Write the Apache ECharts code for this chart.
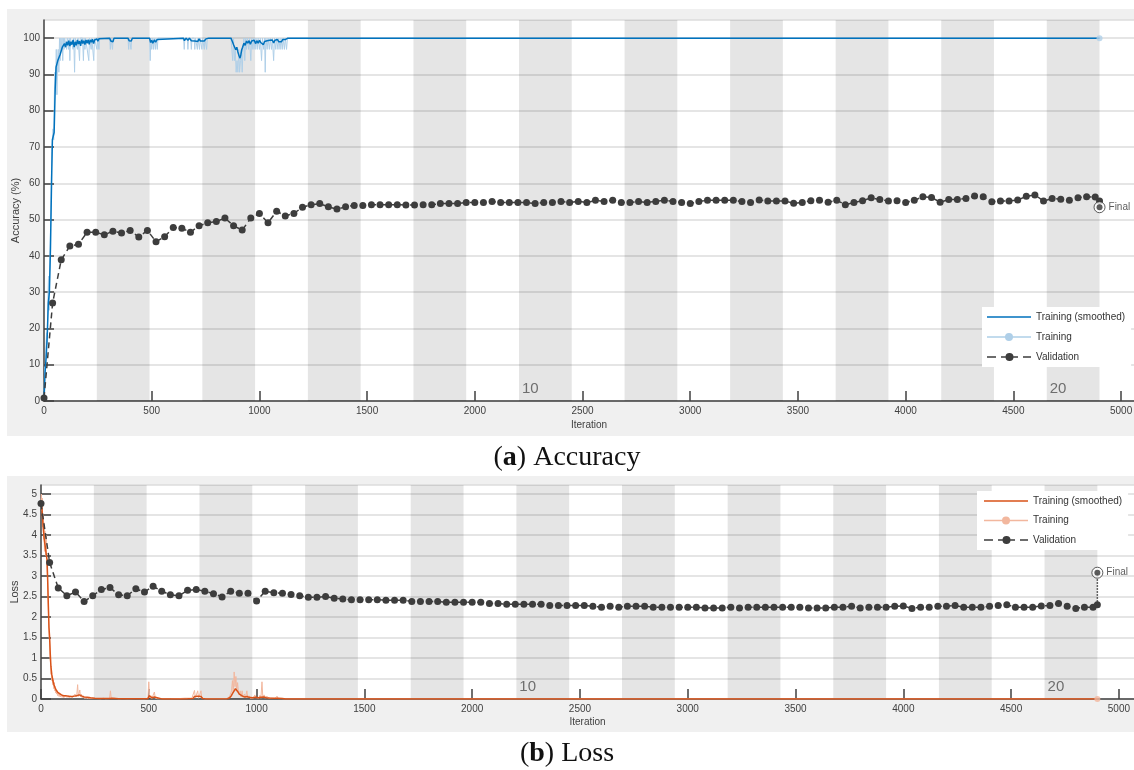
<!DOCTYPE html>
<html>
<head>
<meta charset="utf-8">
<script src="https://cdn.jsdelivr.net/npm/echarts@6/dist/echarts.min.js"></script>
<style>
  html, body { margin: 0; padding: 0; background: #fff; }
  #wrap { position: relative; width: 1134px; height: 770px; overflow: hidden; }
  .panel { position: absolute; background: #f0f0f0; }
  #chart { position: absolute; left: 0; top: 0; width: 1134px; height: 770px; }
</style>
</head>
<body>
<div id="wrap">
  <div class="panel" style="left:7px;top:9px;width:1127px;height:427px"></div>
  <div class="panel" style="left:7px;top:476px;width:1127px;height:256px"></div>
  <div id="chart"></div>
</div>
<script>
// ---- training schedule ----
const iterationsPerEpoch = 245;
const numEpochs = 20;
const labelledEpochs = [10, 20];

// ---- axis ticks ----
const accTicks = { min: 0, max: 105, interval: 10 };
const lossTicks = { min: 0, max: 5.22, interval: 0.5 };
const iterTicks = { min: 0, interval: 500 };

// ---- validation (every 40 iterations + final iteration) ----
const valIter = [
  0, 40, 80, 120, 160, 200, 240, 280, 320, 360,
  400, 440, 480, 520, 560, 600, 640, 680, 720, 760,
  800, 840, 880, 920, 960, 1000, 1040, 1080, 1120, 1160,
  1200, 1240, 1280, 1320, 1360, 1400, 1440, 1480, 1520, 1560,
  1600, 1640, 1680, 1720, 1760, 1800, 1840, 1880, 1920, 1960,
  2000, 2040, 2080, 2120, 2160, 2200, 2240, 2280, 2320, 2360,
  2400, 2440, 2480, 2520, 2560, 2600, 2640, 2680, 2720, 2760,
  2800, 2840, 2880, 2920, 2960, 3000, 3040, 3080, 3120, 3160,
  3200, 3240, 3280, 3320, 3360, 3400, 3440, 3480, 3520, 3560,
  3600, 3640, 3680, 3720, 3760, 3800, 3840, 3880, 3920, 3960,
  4000, 4040, 4080, 4120, 4160, 4200, 4240, 4280, 4320, 4360,
  4400, 4440, 4480, 4520, 4560, 4600, 4640, 4680, 4720, 4760,
  4800, 4840, 4880, 4900
];

const valAccuracy = [
  0.8, 27.0, 38.9, 42.7, 43.2, 46.5, 46.5, 45.8, 46.8, 46.3,
  47.0, 45.2, 47.0, 43.9, 45.3, 47.8, 47.6, 46.5, 48.3, 49.1,
  49.5, 50.4, 48.3, 47.1, 50.4, 51.7, 49.1, 52.3, 51.0, 51.7,
  53.4, 54.1, 54.4, 53.5, 52.9, 53.5, 53.9, 53.9, 54.1, 54.1,
  54.1, 54.1, 54.0, 54.0, 54.1, 54.1, 54.4, 54.4, 54.4, 54.7,
  54.7, 54.7, 55.0, 54.7, 54.7, 54.7, 54.7, 54.4, 54.7, 54.7,
  55.0, 54.7, 55.0, 54.7, 55.3, 55.0, 55.3, 54.7, 54.7, 55.0,
  54.7, 55.0, 55.3, 55.0, 54.7, 54.4, 55.0, 55.3, 55.3, 55.3,
  55.3, 55.0, 54.7, 55.4, 55.1, 55.1, 55.1, 54.5, 54.7, 55.2,
  55.3, 54.8, 55.3, 54.1, 54.7, 55.2, 56.0, 55.5, 55.1, 55.2,
  54.7, 55.3, 56.3, 56.1, 54.8, 55.5, 55.5, 55.8, 56.5, 56.3,
  54.9, 55.1, 55.1, 55.4, 56.4, 56.8, 55.1, 55.8, 55.6, 55.3,
  56.0, 56.3, 56.2, 55.1
];

const valLoss = [
  4.77, 3.33, 2.71, 2.52, 2.61, 2.38, 2.52, 2.67, 2.72, 2.54,
  2.52, 2.69, 2.61, 2.75, 2.63, 2.54, 2.52, 2.65, 2.67, 2.63,
  2.57, 2.49, 2.63, 2.58, 2.58, 2.39, 2.63, 2.59, 2.58, 2.55,
  2.52, 2.48, 2.48, 2.50, 2.46, 2.44, 2.42, 2.42, 2.42, 2.42,
  2.41, 2.41, 2.41, 2.38, 2.38, 2.38, 2.38, 2.36, 2.36, 2.36,
  2.36, 2.36, 2.33, 2.33, 2.31, 2.31, 2.31, 2.31, 2.31, 2.28,
  2.28, 2.28, 2.28, 2.28, 2.26, 2.24, 2.26, 2.24, 2.26, 2.26,
  2.26, 2.24, 2.24, 2.24, 2.24, 2.24, 2.24, 2.22, 2.22, 2.22,
  2.24, 2.22, 2.24, 2.24, 2.24, 2.24, 2.24, 2.24, 2.24, 2.22,
  2.22, 2.22, 2.24, 2.24, 2.26, 2.22, 2.24, 2.24, 2.24, 2.26,
  2.27, 2.21, 2.24, 2.24, 2.26, 2.26, 2.28, 2.24, 2.24, 2.24,
  2.26, 2.28, 2.30, 2.24, 2.24, 2.24, 2.27, 2.28, 2.33, 2.26,
  2.21, 2.24, 2.24, 2.30
];

// final validation after the last iteration
const finalAccuracy = 53.4;
const finalLoss = 3.08;

// ---- mini-batch accuracy (%), [iteration, value] ----
const accTrainRaw = [
  [0,0],[3,9.4],[6,6.3],[9,15.6],[12,18.8],[15,15.6],[18,28.1],[21,34.4],[24,25],[27,37.5],
  [30,46.9],[33,56.3],[36,68.8],[39,71.9],[42,75],[45,71.9],[48,84.4],[51,90.6],[54,87.5],[57,96.9],
  [60,84.4],[63,93.8],[66,96.9],[69,90.6],[72,100],[75,93.8],[78,100],[81,96.9],[84,100],[87,93.8],
  [90,100],[93,96.9],[96,100],[99,100],[102,100],[105,96.9],[108,100],[111,100],[114,96.9],[117,100],
  [120,93.8],[123,100],[126,100],[129,100],[132,100],[135,96.9],[138,100],[142,90.6],[145,100],[148,100],
  [151,100],[155,96.9],[158,100],[162,100],[165,93.8],[168,100],[172,100],[175,100],[179,100],[183,93.8],
  [186,100],[190,96.9],[193,100],[197,100],[201,100],[204,100],[208,93.8],[211,100],[215,100],[219,96.9],
  [222,100],[227,100],[231,93.8],[234,100],[238,100],[241,100],[246,96.9],[249,100],[255,96.9],[258,100],
  [305,100],[308,96.9],[311,100],[315,100],[318,96.9],[321,100],[390,100],[393,96.9],[396,100],[401,100],
  [404,96.9],[407,100],[490,100],[493,93.8],[496,100],[500,96.9],[503,100],[508,96.9],[511,100],[517,96.9],
  [520,100],[526,96.9],[529,100],[648,100],[651,96.9],[654,100],[665,100],[668,96.9],[671,100],[681,100],
  [684,96.9],[687,100],[697,100],[700,96.9],[703,100],[709,100],[712,96.9],[715,100],[719,100],[722,96.9],
  [725,100],[730,100],[733,96.9],[736,100],[741,100],[744,96.9],[747,100],[752,100],[755,96.9],[758,100],
  [868,100],[872,96.9],[876,93.8],[880,100],[884,93.8],[888,96.9],[892,90.6],[896,93.8],[900,90.6],[904,96.9],
  [908,90.6],[912,93.8],[916,96.9],[920,90.6],[924,96.9],[928,100],[932,93.8],[936,100],[940,96.9],[944,100],
  [947,100],[950,96.9],[954,100],[957,100],[960,93.8],[964,100],[967,100],[970,96.9],[974,100],[977,100],
  [980,96.9],[984,100],[987,100],[990,96.9],[994,100],[997,100],[1000,96.9],[1004,100],[1007,100],[1010,93.8],
  [1014,100],[1017,100],[1020,96.9],[1024,100],[1027,90.6],[1030,100],[1033,100],[1036,96.9],[1040,100],[1043,100],
  [1046,96.9],[1050,100],[1053,100],[1056,96.9],[1060,100],[1063,100],[1066,93.8],[1070,100],[1073,100],[1076,96.9],
  [1080,100],[1083,100],[1086,96.9],[1090,100],[1093,100],[1096,96.9],[1100,100],[1103,100],[1106,96.9],[1110,100],
  [1113,100],[1116,96.9],[1120,100],[1123,100],[1126,96.9],[1130,100],[4900,100]
];

const accTrainSmooth = [
  [0,0],[5,8],[10,12],[15,18],[20,27],[25,30],[30,42],[35,60],[39,72],[43,73],
  [47,74],[52,86],[56,92],[60,92.5],[65,94],[70,94],[75,95.5],[80,96],[85,97.5],[90,97],
  [95,98.5],[100,97.5],[105,99],[110,98],[115,99.3],[120,97.8],[125,99],[130,98.2],[135,99.5],[140,97.5],
  [145,99],[150,98],[155,99.5],[160,98.4],[165,99.2],[170,97.9],[175,99.6],[180,98.5],[185,99.3],[190,98.2],
  [195,99.5],[200,98.6],[205,99.6],[210,98.3],[215,99.5],[220,98.9],[225,99.7],[230,98.5],[235,99.5],[240,99],
  [245,99.8],[250,99.2],[255,99.8],[260,100],[305,100],[310,99.2],[315,99.6],[320,99.0],[325,100],[390,100],
  [395,99.3],[400,99.6],[405,99.2],[410,100],[490,100],[495,98.8],[500,99.4],[505,98.6],[512,99.5],[518,98.9],
  [525,99.6],[532,100],[648,100],[652,99.3],[660,100],[668,99.4],[675,100],[684,99.3],[690,99.8],[700,99.2],
  [708,99.7],[714,99.1],[720,99.8],[726,99.2],[735,99.7],[744,99.2],[752,99.8],[758,99.3],[765,100],[868,100],
  [875,99],[880,98.2],[886,97.8],[890,96.8],[895,97.5],[900,96.2],[905,95.2],[910,94.5],[914,95.5],[918,96.8],
  [922,97.5],[928,98.6],[934,98.0],[940,99.2],[946,98.6],[952,99.3],[958,98.3],[964,99.2],[970,98.7],[976,99.4],
  [982,98.5],[988,99.3],[994,98.6],[1000,99.4],[1006,98.8],[1012,99.0],[1018,98.2],[1024,99.1],[1030,98.6],[1036,99.3],
  [1042,98.8],[1048,99.4],[1054,98.9],[1060,99.5],[1066,98.7],[1072,99.4],[1078,98.9],[1084,99.6],[1090,99.0],[1096,99.5],
  [1102,99.0],[1108,99.6],[1114,99.1],[1120,99.6],[1126,99.3],[1132,100],[4900,100]
];

// ---- mini-batch loss, [iteration, value] ----
const lossTrainRaw = [
  [0,4.85],[2,5.0],[4,4.6],[6,4.9],[8,4.2],[10,4.5],[12,3.9],[14,4.3],[16,3.6],[18,4.1],
  [20,3.7],[22,3.5],[24,4.0],[26,3.4],[28,3.2],[30,3.0],[32,2.6],[34,2.2],[36,1.8],[38,1.5],
  [40,1.4],[42,1.0],[44,0.9],[46,0.6],[48,0.7],[50,0.45],[52,0.55],[54,0.35],[56,0.5],[58,0.3],
  [60,0.25],[62,0.4],[64,0.2],[66,0.3],[68,0.15],[70,0.22],[72,0.12],[75,0.2],[78,0.08],[81,0.15],
  [84,0.06],[87,0.12],[90,0.05],[94,0.1],[98,0.04],[102,0.09],[106,0.03],[110,0.08],[114,0.05],[118,0.12],
  [122,0.04],[126,0.09],[130,0.03],[134,0.08],[138,0.04],[142,0.1],[146,0.03],[150,0.07],[154,0.04],[158,0.12],
  [162,0.05],[166,0.1],[170,0.35],[173,0.06],[176,0.1],[180,0.22],[183,0.05],[187,0.12],[191,0.03],[195,0.08],
  [200,0.02],[205,0.06],[210,0.02],[215,0.05],[220,0.01],[226,0.04],[232,0.01],[238,0.03],[245,0.01],[252,0.03],
  [260,0.01],[268,0.03],[276,0.005],[290,0.02],[300,0.005],[318,0.01],[322,0.2],[326,0.01],[340,0.02],[360,0.005],
  [380,0.01],[400,0.005],[440,0.01],[480,0.005],[496,0.02],[500,0.42],[504,0.03],[510,0.08],[514,0.01],[522,0.03],
  [526,0.17],[530,0.02],[540,0.005],[600,0.005],[640,0.01],[668,0.02],[672,0.06],[676,0.01],[700,0.02],[708,0.05],
  [712,0.21],[716,0.03],[722,0.12],[727,0.2],[731,0.02],[738,0.04],[742,0.2],[746,0.02],[760,0.005],[860,0.005],
  [870,0.03],[876,0.08],[880,0.12],[884,0.2],[888,0.45],[892,0.15],[896,0.66],[900,0.3],[904,0.55],[908,0.2],
  [912,0.4],[916,0.15],[920,0.1],[924,0.2],[928,0.05],[933,0.2],[937,0.04],[944,0.12],[948,0.03],[955,0.2],
  [959,0.03],[965,0.08],[970,0.02],[978,0.06],[985,0.02],[992,0.1],[997,0.03],[1005,0.07],[1010,0.02],[1016,0.09],
  [1020,0.02],[1025,0.42],[1029,0.04],[1035,0.1],[1040,0.02],[1048,0.07],[1055,0.02],[1062,0.06],[1070,0.02],[1078,0.05],
  [1086,0.01],[1095,0.07],[1100,0.01],[1108,0.04],[1115,0.01],[1122,0.03],[1130,0.002],[4900,0.002]
];

const lossTrainSmooth = [
  [0,4.8],[5,4.6],[10,4.2],[15,3.9],[20,3.7],[25,3.5],[28,3.4],[31,2.9],[34,2.3],[37,1.75],
  [40,1.5],[43,1.1],[46,0.8],[50,0.6],[55,0.45],[60,0.35],[65,0.28],[70,0.22],[78,0.16],[85,0.13],
  [95,0.1],[105,0.08],[115,0.08],[125,0.07],[135,0.06],[145,0.06],[155,0.07],[165,0.08],[172,0.12],[178,0.1],
  [184,0.11],[190,0.07],[200,0.05],[215,0.04],[230,0.03],[250,0.02],[270,0.015],[300,0.01],[320,0.01],[324,0.05],
  [330,0.02],[360,0.005],[495,0.005],[502,0.08],[508,0.05],[515,0.03],[526,0.05],[535,0.01],[560,0.003],[665,0.003],
  [672,0.02],[680,0.005],[705,0.01],[712,0.06],[720,0.04],[728,0.07],[735,0.03],[742,0.06],[750,0.01],[765,0.003],
  [865,0.005],[875,0.03],[883,0.08],[890,0.15],[896,0.2],[902,0.25],[908,0.22],[914,0.17],[920,0.12],[928,0.08],
  [935,0.07],[945,0.05],[955,0.06],[965,0.04],[980,0.03],[995,0.04],[1010,0.03],[1020,0.04],[1027,0.08],[1034,0.05],
  [1045,0.03],[1060,0.025],[1080,0.02],[1100,0.02],[1120,0.01],[1135,0.002],[4900,0.002]
];

// ---- legend texts ----
const legendText = {
  accSmooth: 'Training (smoothed)', accRaw: 'Training', accVal: 'Validation',
  lossSmooth: 'Training (smoothed)', lossRaw: 'Training', lossVal: 'Validation'
};

// ---- styling ----
const FONT = 'Liberation Sans';
const AXIS_COLOR = '#404040';
const VAL_COLOR = '#3d3d3d';
const colors = {
  acc: { smooth: '#0072BD', raw: '#afcfe8' },
  loss: { smooth: '#D95319', raw: '#f2b79e' }
};

// legend glyphs (44 x 8 boxes)
const ICON_LINE = 'path://M0,0h0.01v0.01h-0.01zM0,3.3h44v1.4h-44zM43.99,7.99h0.01v0.01h-0.01z';
const ICON_LINE_DOT = 'path://M0,3.3h44v1.4h-44zM18,4a4,4 0 1,1 8,0a4,4 0 1,1 -8,0z';
const ICON_DASH_DOT = 'path://M0,3.3h9v1.4h-9zM14,3.3h17v1.4h-17zM18.5,4a4,4 0 1,1 8,0a4,4 0 1,1 -8,0zM36,3.3h8v1.4h-8z';

function epochBands() {
  const bands = [];
  for (let e = 2; e <= numEpochs; e += 2) {
    const start = { xAxis: (e - 1) * iterationsPerEpoch };
    if (labelledEpochs.indexOf(e) >= 0) {
      start.name = String(e);
      start.label = { show: true };
    }
    bands.push([start, { xAxis: e * iterationsPerEpoch }]);
  }
  return bands;
}

function panelSeries(g, key, raw, smooth, valY, finalVal) {
  const c = colors[key];
  const lastIter = valIter[valIter.length - 1];
  const lastRaw = raw[raw.length - 1];
  return [
    {
      type: 'line', xAxisIndex: g, yAxisIndex: g, data: [], silent: true, z: 1,
      markArea: {
        silent: true,
        itemStyle: { color: 'rgba(0,0,0,0.1)' },
        label: {
          show: false, position: 'insideBottomLeft', distance: 5, offset: [-2, 0],
          color: '#6e6e6e', fontSize: 15, fontFamily: FONT
        },
        data: epochBands()
      }
    },
    {
      type: 'line', name: key + 'Raw', xAxisIndex: g, yAxisIndex: g, data: raw,
      symbol: 'none', silent: true, z: 2,
      lineStyle: { color: c.raw, width: 1 }, itemStyle: { color: c.raw }
    },
    {
      type: 'scatter', xAxisIndex: g, yAxisIndex: g, data: [lastRaw], silent: true, z: 3,
      symbolSize: 6, itemStyle: { color: c.raw }
    },
    {
      type: 'line', name: key + 'Smooth', xAxisIndex: g, yAxisIndex: g, data: smooth,
      symbol: 'none', silent: true, z: 3,
      lineStyle: { color: c.smooth, width: 1.5 }, itemStyle: { color: c.smooth }
    },
    {
      type: 'line', name: key + 'Val', xAxisIndex: g, yAxisIndex: g,
      data: valIter.map((it, i) => [it, valY[i]]),
      symbol: 'circle', symbolSize: 7, silent: true, z: 4,
      lineStyle: { color: VAL_COLOR, width: 1.5, type: [6, 4] },
      itemStyle: { color: VAL_COLOR }
    },
    {
      type: 'line', xAxisIndex: g, yAxisIndex: g,
      data: [[lastIter, valY[valY.length - 1]], [lastIter, finalVal]],
      symbol: 'none', silent: true, z: 4,
      lineStyle: { color: '#333', width: 1.5, type: 'dotted' }
    },
    {
      type: 'scatter', xAxisIndex: g, yAxisIndex: g, data: [[lastIter, finalVal]],
      symbolSize: 11, silent: true, z: 5,
      itemStyle: { color: '#fff', borderColor: '#333', borderWidth: 1 },
      label: {
        show: true, position: 'right', distance: 3, formatter: 'Final',
        fontSize: 10, color: '#333', fontFamily: FONT
      }
    },
    {
      type: 'scatter', xAxisIndex: g, yAxisIndex: g, data: [[lastIter, finalVal]],
      symbolSize: 6, silent: true, z: 6, itemStyle: { color: '#333' }
    }
  ];
}

function xAxisFor(g, max, nameGap) {
  return {
    type: 'value', gridIndex: g, min: iterTicks.min, max: max, interval: iterTicks.interval,
    name: 'Iteration', nameLocation: 'middle', nameGap: nameGap, nameMoveOverlap: false,
    nameTextStyle: { fontSize: 10, color: AXIS_COLOR, fontFamily: FONT },
    axisLine: { show: true, onZero: false, lineStyle: { color: AXIS_COLOR, width: 1.5 } },
    axisTick: { show: true, inside: true, length: 10, lineStyle: { color: AXIS_COLOR, width: 1.5 } },
    axisLabel: {
      fontSize: 10, color: AXIS_COLOR, fontFamily: FONT, margin: 5, showMaxLabel: false,
      formatter: (v) => String(v)
    },
    splitLine: { show: false }
  };
}

function yAxisFor(g, ticks, name, nameGap) {
  return {
    type: 'value', gridIndex: g, min: ticks.min, max: ticks.max, interval: ticks.interval,
    name: name, nameLocation: 'middle', nameGap: nameGap, nameMoveOverlap: false,
    nameTextStyle: { fontSize: 11, color: AXIS_COLOR, fontFamily: FONT },
    axisLine: { show: true, lineStyle: { color: AXIS_COLOR, width: 1.5 } },
    axisTick: { show: true, inside: true, length: 10, lineStyle: { color: AXIS_COLOR, width: 1.5 } },
    axisLabel: {
      fontSize: 10, color: AXIS_COLOR, fontFamily: FONT, margin: 4, showMaxLabel: false,
      formatter: (v) => String(v)
    },
    splitLine: { show: true, lineStyle: { color: '#dcdcdc', width: 1.5 } }
  };
}

function legendFor(prefix, colorSet, left, top, padding, gap) {
  return {
    orient: 'vertical', left: left, top: top, padding: padding, itemGap: gap,
    itemWidth: 44, itemHeight: 8, backgroundColor: '#fff', selectedMode: false,
    itemStyle: { borderWidth: 0 },
    textStyle: { fontSize: 10, lineHeight: 12, color: '#333', fontFamily: FONT },
    formatter: (n) => legendText[n],
    data: [
      { name: prefix + 'Smooth', icon: ICON_LINE, itemStyle: { color: colorSet.smooth, borderWidth: 0 } },
      { name: prefix + 'Raw', icon: ICON_LINE_DOT, itemStyle: { color: colorSet.raw, borderWidth: 0 } },
      { name: prefix + 'Val', icon: ICON_DASH_DOT, itemStyle: { color: VAL_COLOR, borderWidth: 0 } }
    ]
  };
}

const captionRich = {
  n: { fontFamily: 'Liberation Serif', fontSize: 28, lineHeight: 30, color: '#111', fontWeight: 'normal' },
  b: { fontFamily: 'Liberation Serif', fontSize: 28, lineHeight: 30, color: '#111', fontWeight: 'bold' }
};

const chart = echarts.init(document.getElementById('chart'), null, { renderer: 'canvas' });
chart.setOption({
  backgroundColor: 'transparent',
  animation: false,
  title: [
    { text: '{n|(}{b|a}{n|) Accuracy}', left: 'center', top: 443, padding: 0,
      textStyle: { fontWeight: 'normal', fontFamily: 'Liberation Serif', fontSize: 28, rich: captionRich } },
    { text: '{n|(}{b|b}{n|) Loss}', left: 'center', top: 739, padding: 0,
      textStyle: { fontWeight: 'normal', fontFamily: 'Liberation Serif', fontSize: 28, rich: captionRich } }
  ],
  grid: [
    { left: 44, right: 0, top: 20, bottom: 369, show: true, backgroundColor: '#fff', borderWidth: 0, containLabel: false, outerBoundsMode: 'none' },
    { left: 41, right: 0, top: 485, bottom: 71, show: true, backgroundColor: '#fff', borderWidth: 0, containLabel: false, outerBoundsMode: 'none' }
  ],
  xAxis: [xAxisFor(0, 5060, 19), xAxisFor(1, 5070, 18)],
  yAxis: [yAxisFor(0, accTicks, 'Accuracy (%)', 23), yAxisFor(1, lossTicks, 'Loss', 21)],
  legend: [
    legendFor('acc', colors.acc, 982, 307, [4, 6, 4, 5], 8),
    legendFor('loss', colors.loss, 977, 491, [4, 6, 4, 7], 7.5)
  ],
  series: [].concat(
    panelSeries(0, 'acc', accTrainRaw, accTrainSmooth, valAccuracy, finalAccuracy),
    panelSeries(1, 'loss', lossTrainRaw, lossTrainSmooth, valLoss, finalLoss)
  )
});
</script>
</body>
</html>
